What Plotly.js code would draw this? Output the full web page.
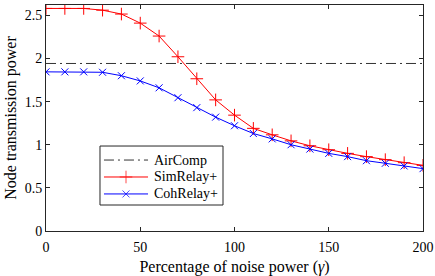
<!DOCTYPE html>
<html><head><meta charset="utf-8">
<script src="https://cdn.plot.ly/plotly-3.0.1.min.js"></script>
<style>body{margin:0;padding:0;background:#fff}#c{width:435px;height:276px}</style>
</head><body><div id="c"></div>
<script>
const gamma = [0,10,20,30,40,50,60,70,80,90,100,110,120,130,140,150,160,170,180,190,200];
const simRelay = [2.58,2.58,2.58,2.56,2.515,2.41,2.26,2.02,1.765,1.52,1.343,1.19,1.115,1.045,0.988,0.942,0.90,0.862,0.827,0.792,0.761];
const cohRelay = [1.845,1.845,1.845,1.84,1.80,1.74,1.66,1.545,1.43,1.32,1.22,1.13,1.068,1.0,0.95,0.90,0.862,0.815,0.785,0.754,0.723];
const airCompLevel = 1.942;
const airCompX = [0,200];
const airComp = airCompX.map(()=>airCompLevel);
const seriesNames = ["AirComp","SimRelay+","CohRelay+"];
const xTicks = [0,50,100,150,200];
const yTicks = [0,0.5,1,1.5,2,2.5];
const yTickText = ["0","0.5","1","1.5","2","2.5"];

const FAM = "Liberation Serif";
const tickFont = {family:FAM, size:14, color:"#000"};
const titleFont = {family:FAM, size:16, color:"#000"};
const styles = [
  {line:{color:"#333", width:1, dash:"10px,4px,2px,4px"}},
  {line:{color:"#ff0000", width:1}, marker:{symbol:"cross-thin", size:9, line:{color:"#ff0000", width:1}}},
  {line:{color:"#0000ff", width:1}, marker:{symbol:"x-thin", size:7, line:{color:"#0000ff", width:1}}}
];
const traces = [
  Object.assign({x:airCompX, y:airComp, name:seriesNames[0], mode:"lines"}, styles[0]),
  Object.assign({x:gamma, y:simRelay, name:seriesNames[1], mode:"lines+markers"}, styles[1]),
  Object.assign({x:gamma, y:cohRelay, name:seriesNames[2], mode:"lines+markers"}, styles[2])
];
// custom legend (MATLAB-like compact box) drawn on an overlay 0..1 axis
const legX0 = 0.1432, legX1 = 0.4695, legY0 = 0.115, legY1 = 0.376;
const rowY = [0.314, 0.239, 0.164];
const sampleX = [0.1538, 0.2122, 0.2706];
const textX = 0.2804;
const annotations = [];
seriesNames.forEach((n,i)=>{
  const s = styles[i];
  const t = {x:sampleX, y:sampleX.map(()=>rowY[i]), xaxis:"x2", yaxis:"y2", showlegend:false,
    mode: s.marker ? "lines+markers" : "lines", line:s.line, hoverinfo:"skip"};
  if (s.marker) t.marker = Object.assign({}, s.marker, {size:[0, s.marker.size, 0]});
  traces.push(t);
  annotations.push({xref:"paper", yref:"paper", x:textX, y:rowY[i], xanchor:"left", yanchor:"middle",
    text:n, showarrow:false, font:tickFont});
});
const axisBase = {showgrid:false, zeroline:false, showline:true, linecolor:"#262626", linewidth:1,
  mirror:"ticks", ticks:"inside", ticklen:4, tickcolor:"#262626", tickfont:tickFont};
const layout = {
  width:435, height:276, margin:{l:46, r:12, t:5, b:45},
  paper_bgcolor:"#fff", plot_bgcolor:"#fff", font:tickFont, showlegend:false,
  xaxis:Object.assign({}, axisBase, {range:[0,200], tickvals:xTicks, ticklabelstandoff:3,
    title:{text:"Percentage of noise power (<i>γ</i>)", font:titleFont, standoff:7}}),
  yaxis:Object.assign({}, axisBase, {range:[0,2.62], tickvals:yTicks, ticktext:yTickText,
    title:{text:"Node transmission power", font:titleFont, standoff:4}}),
  xaxis2:{overlaying:"x", range:[0,1], visible:false, fixedrange:true},
  yaxis2:{overlaying:"y", range:[0,1], visible:false, fixedrange:true},
  shapes:[{type:"rect", xref:"paper", yref:"paper", x0:legX0, x1:legX1, y0:legY0, y1:legY1,
    fillcolor:"#fff", line:{color:"#262626", width:1}, layer:"below"}],
  annotations:annotations
};
Plotly.newPlot("c", traces, layout, {displayModeBar:false, staticPlot:true});
</script></body></html>
